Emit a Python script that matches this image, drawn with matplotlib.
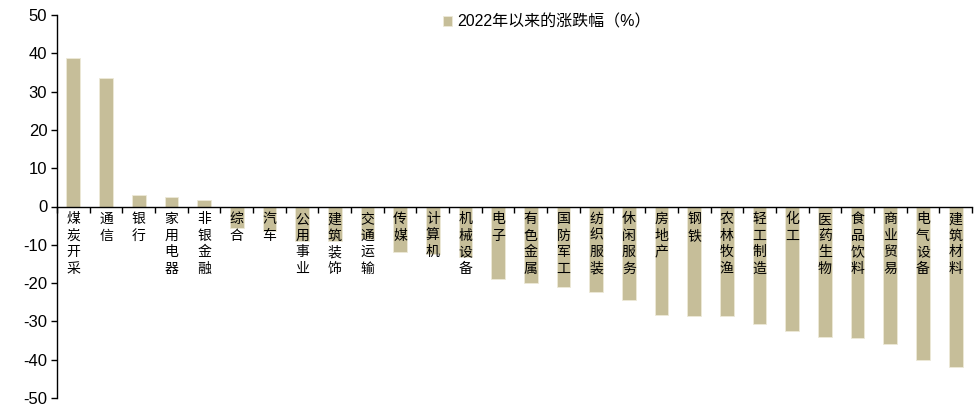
import numpy as np
import matplotlib.pyplot as plt

plt.rcParams['font.family'] = ['Liberation Sans', 'Noto Sans CJK SC']
plt.rcParams['axes.unicode_minus'] = False

industries = ["煤炭开采", "通信", "银行", "家用电器", "非银金融", "综合", "汽车", "公用事业",
              "建筑装饰", "交通运输", "传媒", "计算机", "机械设备", "电子", "有色金属", "国防军工",
              "纺织服装", "休闲服务", "房地产", "钢铁", "农林牧渔", "轻工制造", "化工", "医药生物",
              "食品饮料", "商业贸易", "电气设备", "建筑材料"]
change = [38.9, 33.6, 2.9, 2.6, 1.6, -5.7, -6.4, -8.9,
          -9.0, -8.4, -11.8, -12.3, -13.2, -18.8, -20.1, -21.1,
          -22.4, -24.5, -28.4, -28.7, -28.7, -30.7, -32.6, -34.0,
          -34.4, -35.9, -40.2, -41.9]
series_name = "2022年以来的涨跌幅（%）"
bar_color = "#C6BE99"

fig = plt.figure(figsize=(9.79, 4.09), dpi=100)
ax = fig.add_axes([57 / 979, 11 / 409, 915 / 979, 383 / 409])

x = np.arange(len(industries))
ax.bar(x, change, width=0.42, color=bar_color, edgecolor="#EDE9D8", linewidth=0.6,
       label=series_name, zorder=2)

ax.set_xlim(-0.5, len(industries) - 0.5)
ax.set_ylim(-50, 50)
ax.set_yticks(np.arange(-50, 51, 10))
ax.tick_params(axis='y', direction='out', length=4, width=1, labelsize=12, pad=3)

for s in ['top', 'right']:
    ax.spines[s].set_visible(False)
ax.spines['bottom'].set_position(('data', 0))
ax.spines['left'].set_linewidth(1)
ax.spines['bottom'].set_linewidth(1)
ax.set_xticks(np.arange(-0.5, len(industries), 1.0))
ax.set_xticklabels([])
ax.tick_params(axis='x', direction='out', length=4, width=1)

for xi, name in zip(x, industries):
    ax.text(xi, -1.5, "\n".join(name), ha='center', va='top', fontsize=10,
            family=['Noto Sans CJK SC'], linespacing=1.22, zorder=3)

leg = ax.legend(loc='upper center', bbox_to_anchor=(0.535, 1.04), frameon=False,
                handlelength=0.6, handleheight=0.6, handletextpad=0.3, fontsize=11.5)

fig.savefig("out.png", dpi=100)
